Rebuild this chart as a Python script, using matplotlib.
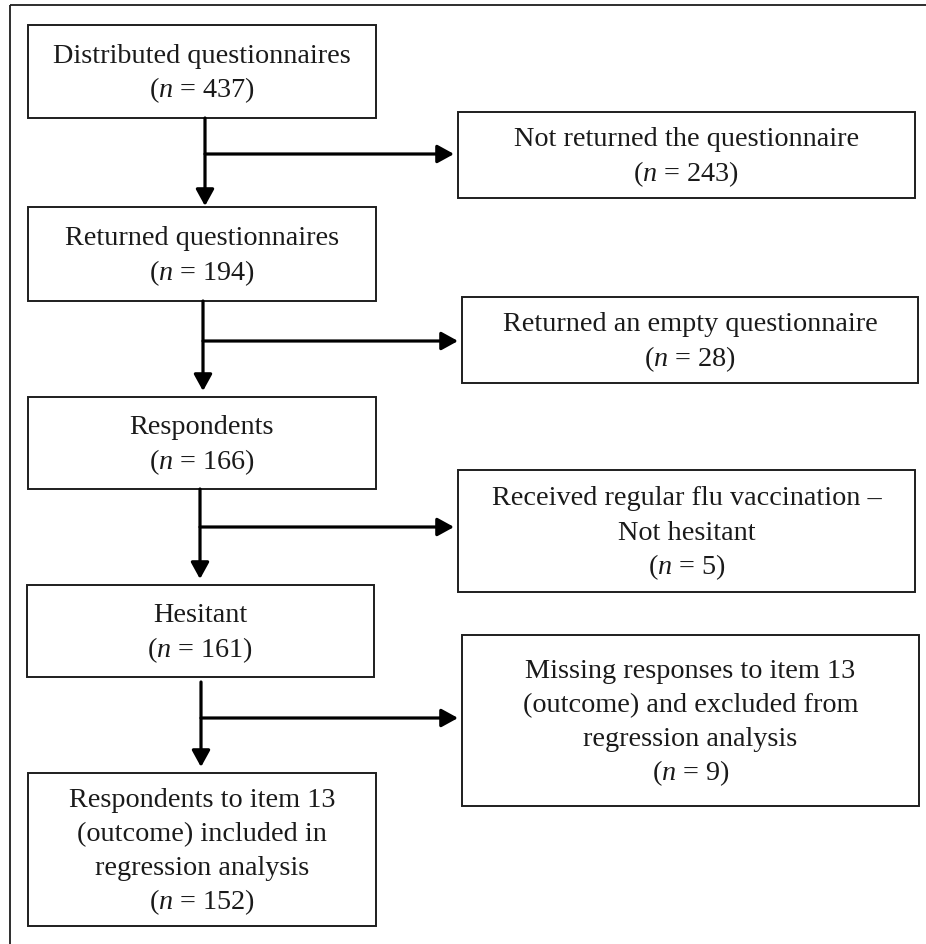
import matplotlib.pyplot as plt
from matplotlib.patches import Rectangle

plt.rcParams['font.family'] = 'Liberation Serif'
plt.rcParams['mathtext.fontset'] = 'custom'
plt.rcParams['mathtext.rm'] = 'Liberation Serif'
plt.rcParams['mathtext.it'] = 'Liberation Serif:italic'

# Flow data
main_labels = ["Distributed questionnaires",
               "Returned questionnaires",
               "Respondents",
               "Hesitant",
               "Respondents to item 13\n(outcome) included in\nregression analysis"]
main_n = [437, 194, 166, 161, 152]

excl_labels = ["Not returned the questionnaire",
               "Returned an empty questionnaire",
               "Received regular flu vaccination \u2013\nNot hesitant",
               "Missing responses to item 13\n(outcome) and excluded from\nregression analysis"]
excl_n = [243, 28, 5, 9]

# Layout in pixel coordinates (x0, y0, x1, y1)
main_boxes = [(28, 26, 376, 119), (28, 208, 376, 302), (28, 398, 376, 490),
              (27, 586, 374, 678), (28, 774, 376, 927)]
excl_boxes = [(458, 113, 915, 199), (462, 298, 918, 384), (458, 471, 915, 593),
              (462, 636, 919, 807)]
trunk_x = [205, 203, 200, 201]
branch_y = [155, 342, 528, 719]

W, H = 926, 945
fig = plt.figure(figsize=(W / 100, H / 100), dpi=100)
ax = fig.add_axes([0, 0, 1, 1])
ax.set_xlim(0, W)
ax.set_ylim(H, 0)
ax.axis('off')

TXT = '#1a1a1a'
EDGE = '#1e1e1e'
LINE_H = 34.3


def draw_box(box, label, n):
    x0, y0, x1, y1 = box
    ax.add_patch(Rectangle((x0, y0), x1 - x0, y1 - y0, fill=False,
                           edgecolor=EDGE, linewidth=1.4))
    lines = label.split('\n') + [f"($n$ = {n})"]
    cx, cy = (x0 + x1) / 2, (y0 + y1) / 2
    m = len(lines)
    for k, line in enumerate(lines):
        y = cy + 7.5 + (k - (m - 1) / 2) * LINE_H
        ax.text(cx, y, line, ha='center', va='baseline', fontsize=20.3,
                color=TXT)


for box, lab, n in zip(main_boxes, main_labels, main_n):
    draw_box(box, lab, n)
for box, lab, n in zip(excl_boxes, excl_labels, excl_n):
    draw_box(box, lab, n)

arrow_kw = dict(arrowstyle='-|>,head_length=10,head_width=5.5', color='black',
                lw=2.3, shrinkA=0, shrinkB=0, mutation_scale=1)

for i in range(4):
    x = trunk_x[i]
    top = main_boxes[i][3] + (5 if i == 3 else 0)
    bottom = main_boxes[i + 1][1] - (1 if i == 0 else 6)
    ax.annotate('', xy=(x, bottom), xytext=(x, top), arrowprops=arrow_kw)
    ax.annotate('', xy=(excl_boxes[i][0] - 4, branch_y[i]), xytext=(x, branch_y[i]),
                arrowprops=arrow_kw)

# outer frame
ax.plot([10, W], [6, 6], color=EDGE, lw=1.3, solid_capstyle='butt')
ax.plot([10, 10], [6, H], color=EDGE, lw=1.3, solid_capstyle='butt')

fig.savefig('out.png', dpi=100)
